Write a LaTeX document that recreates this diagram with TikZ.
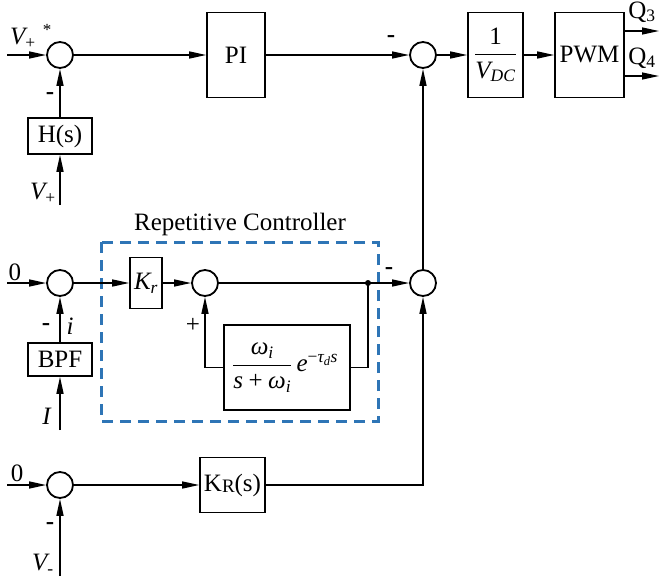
\documentclass[tikz,border=0pt]{standalone}
\usepackage{amsmath}
\usepackage{fontspec}
\setmainfont{Liberation Serif}
\usetikzlibrary{arrows.meta}
\definecolor{rcblue}{RGB}{46,117,182}
\tikzset{
  blk/.style={draw, line width=1.6pt, inner sep=0pt, align=center},
  sm/.style={circle, draw, line width=1.8pt, minimum size=26pt, inner sep=0pt},
  ln/.style={line width=1.4pt},
  ar/.style={ln, -{Triangle[length=17pt,width=7pt]}},
  lbl/.style={inner sep=0pt},
  dotnode/.style={circle, fill, inner sep=0pt, minimum size=6pt},
}
\begin{document}
\begin{tikzpicture}[x=1pt,y=-1pt,font=\fontsize{25}{30}\selectfont]
\useasboundingbox (0,0) rectangle (659,576);
% repetitive controller frame
\draw[rcblue, line width=3pt, dash pattern=on 11pt off 7pt] (101,242) rectangle (378,421);
\node[lbl] (rct) at (240,224) {Repetitive Controller};
% top row
\node[sm] (s1) at (60,55) {};
\node[blk, minimum width=64pt, minimum height=36pt] (hs) at (60,136) {H(s)};
\node[blk, minimum width=58pt, minimum height=85pt] (pi) at (236,55) {PI};
\node[sm] (s2) at (423,55) {};
\node[blk, minimum width=55pt, minimum height=85pt] (vdc) at (495.5,55) {$\dfrac{\text{1}}{\textit{V}_{\textit{DC}}}$};
\node[blk, minimum width=69pt, minimum height=85pt] (pwm) at (589.5,55) {PWM};
\coordinate (in1) at (7,55);
\coordinate (vp) at (60,205);
\coordinate (q3) at (659,31);
\coordinate (q4) at (659,76);
% middle row
\node[sm] (s3) at (60,283) {};
\node[blk, minimum width=32pt, minimum height=51pt] (kr) at (146,283) {$\textit{K}_{\textit{r}}$};
\node[sm] (s4) at (205,283) {};
\node[dotnode] (dot) at (368,283) {};
\node[blk, minimum width=126pt, minimum height=85pt] (fb) at (287,367.5) {$\dfrac{\textit{ω}_{\textit{i}}}{\textit{s}\mathbin{\text{+}}\textit{ω}_{\textit{i}}}\,\textit{e}^{\text{−}\textit{τ}_{\textit{d}}\textit{s}}$\hspace*{4pt}};
\node[sm] (s5) at (423,283) {};
\node[blk, minimum width=64pt, minimum height=33pt] (bpf) at (60,359.5) {BPF};
\coordinate (in3) at (7,283);
\coordinate (ii) at (60,430);
% bottom row
\node[sm] (s6) at (60,485) {};
\node[blk, minimum width=65pt, minimum height=55pt] (kr2) at (232.5,485) {K\raisebox{-1pt}{\fontsize{19}{22}\selectfont R}(s)};
\coordinate (in6) at (7,485);
\coordinate (vm) at (60,576);
% connectors top
\draw[ar] (in1) -- (s1);
\draw[ar] (s1) -- (pi);
\draw[ar] (hs) -- (s1);
\draw[ar] (vp) -- (hs);
\draw[ar] (pi) -- (s2);
\draw[ar] (s2) -- (vdc);
\draw[ar] (vdc) -- (pwm);
\draw[ar] (pwm.east |- q3) -- (q3);
\draw[ar] (pwm.east |- q4) -- (q4);
% connectors middle
\draw[ar] (in3) -- (s3);
\draw[ar] (s3) -- (kr);
\draw[ar] (kr) -- (s4);
\draw[ln] (s4) -- (dot.center);
\draw[ar] (dot.center) -- (s5);
\draw[ln] (fb.east) -| (dot.center);
\draw[ar] (fb.west) -| (s4);
\draw[ar] (bpf) -- (s3);
\draw[ar] (ii) -- (bpf);
\draw[ar] (s5) -- (s2);
% connectors bottom
\draw[ar] (in6) -- (s6);
\draw[ar] (s6) -- (kr2);
\draw[ar] (kr2) -| (s5);
\draw[ar] (vm) -- (s6);
% labels
\node[lbl] (lvp) at (23,38) {$\textit{V}_{\text{+}}$};
\node[lbl, font=\fontsize{17}{20}\selectfont] (lstar) at (47,30) {*};
\node[lbl] (lm1) at (50,96) {\textbf{-}};
\node[lbl] (lvp2) at (43,193) {$\textit{V}_{\text{+}}$};
\node[lbl] (lm2) at (391,39) {\textbf{-}};
\node[lbl] (lq3) at (642,12) {Q$_{\text{3}}$};
\node[lbl] (lq4) at (642,58) {Q$_{\text{4}}$};
\node[lbl] (l0a) at (15,272) {0};
\node[lbl] (lm3) at (46,327) {\textbf{-}};
\node[lbl] (li) at (70,326) {\textit{i}};
\node[lbl] (lplus) at (193,325) {+};
\node[lbl] (lI) at (47,416) {\textit{I}};
\node[lbl] (lm4) at (389,271) {\textbf{-}};
\node[lbl] (l0b) at (17,473) {0};
\node[lbl] (lm5) at (50,526) {\textbf{-}};
\node[lbl] (lvm) at (43,564) {$\textit{V}_{\text{-}}$};
\end{tikzpicture}
\end{document}
